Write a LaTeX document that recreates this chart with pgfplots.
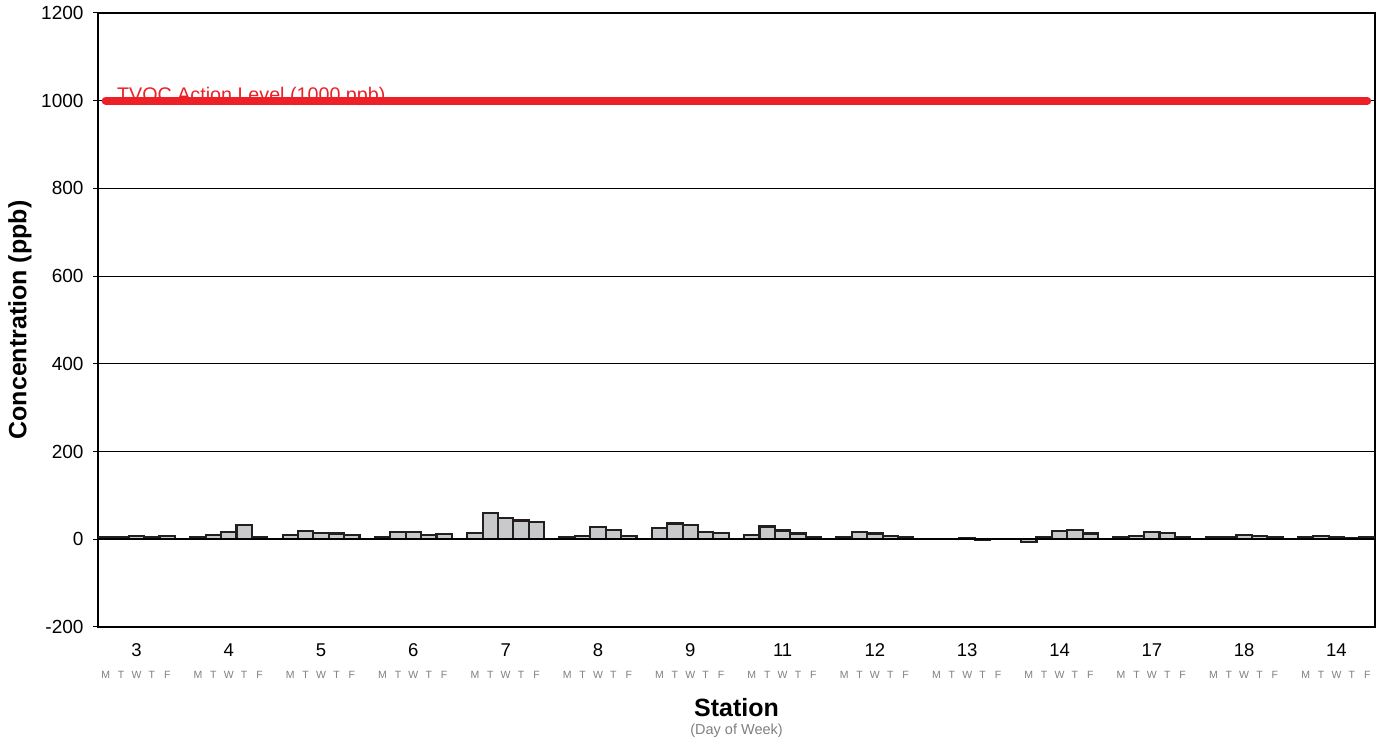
\documentclass[border=0pt]{standalone}
\usepackage{fontspec}
\setmainfont{Liberation Sans}
\usepackage{pgfplots}
\usepackage{pgfplotstable}
\pgfplotsset{compat=1.18}
\definecolor{barfill}{HTML}{C8C9CA}
\definecolor{bardraw}{HTML}{231F20}
\definecolor{tvocred}{HTML}{ED2027}
\definecolor{daygrey}{HTML}{808080}
\newcommand\dl[1]{\fontsize{10.5bp}{11bp}\selectfont\textcolor{daygrey}{#1}}
\pgfplotstableread{
x y
0 4
1 4
2 7
3 4
4 7
6 4
7 10
8 16
9 32
10 4
12 10
13 18
14 14
15 13
16 10
18 4
19 17
20 17
21 10
22 12
24 15
25 60
26 48
27 43
28 39
30 4
31 7
32 28
33 21
34 7
36 26
37 36
38 33
39 17
40 15
42 10
43 29
44 20
45 13
46 6
48 4
49 16
50 13
51 7
52 4
54 1
55 1
56 3
57 -2
58 1
60 -6
61 4
62 18
63 21
64 13
66 4
67 8
68 17
69 14
70 5
72 4
73 6
74 9
75 7
76 4
78 4
79 7
80 5
81 3
82 5
}\bardata
\begin{document}
\begin{tikzpicture}[x=1bp,y=1bp]
\useasboundingbox (0,0) rectangle (1389,744);
\begin{axis}[
  at={(98bp,117bp)}, anchor=south west,
  scale only axis, width=1277bp, height=614bp,
  xmin=-0.5, xmax=82.5, ymin=-200, ymax=1200,
  ytick={-200,0,...,1200},
  ymajorgrids, grid style={black, line width=1.1bp},
  axis line style={black, line width=1.4bp},
  tick align=outside, major tick length=5bp,
  ytick pos=left, xtick pos=left,
  ytick style={black, line width=1bp},
  xtick style={draw=none},
  /pgf/number format/assume math mode=true,
  /pgf/number format/1000 sep={},
  y tick label style={font=\fontsize{19bp}{21bp}\selectfont, xshift=-6bp},
  xtick={2,8,...,80},
  xticklabels={3,4,5,6,7,8,9,11,12,13,14,17,18,14},
  x tick label style={font=\fontsize{18.5bp}{21bp}\selectfont, yshift=-8bp},
  extra x ticks={0,1,2,3,4,6,7,8,9,10,12,13,14,15,16,18,19,20,21,22,24,25,26,27,28,30,31,32,33,34,36,37,38,39,40,42,43,44,45,46,48,49,50,51,52,54,55,56,57,58,60,61,62,63,64,66,67,68,69,70,72,73,74,75,76,78,79,80,81,82},
  extra x tick labels={\dl{M},\dl{T},\dl{W},\dl{T},\dl{F},\dl{M},\dl{T},\dl{W},\dl{T},\dl{F},\dl{M},\dl{T},\dl{W},\dl{T},\dl{F},\dl{M},\dl{T},\dl{W},\dl{T},\dl{F},\dl{M},\dl{T},\dl{W},\dl{T},\dl{F},\dl{M},\dl{T},\dl{W},\dl{T},\dl{F},\dl{M},\dl{T},\dl{W},\dl{T},\dl{F},\dl{M},\dl{T},\dl{W},\dl{T},\dl{F},\dl{M},\dl{T},\dl{W},\dl{T},\dl{F},\dl{M},\dl{T},\dl{W},\dl{T},\dl{F},\dl{M},\dl{T},\dl{W},\dl{T},\dl{F},\dl{M},\dl{T},\dl{W},\dl{T},\dl{F},\dl{M},\dl{T},\dl{W},\dl{T},\dl{F},\dl{M},\dl{T},\dl{W},\dl{T},\dl{F}},
  extra x tick style={grid=none, tick style={draw=none}, tick label style={yshift=-28bp}},
  xlabel={\textbf{Station}},
  xlabel style={font=\fontsize{25bp}{27bp}\selectfont, at={(axis description cs:0.5,0)}, anchor=center, yshift=-81bp},
  ylabel={\textbf{Concentration (ppb)}},
  ylabel style={font=\fontsize{25bp}{27bp}\selectfont, at={(axis description cs:-0.0611,0.5)}, anchor=center},
]
\addplot[ybar, bar width=1, bar shift=0, fill=barfill, draw=bardraw, line width=2.2bp] table[x=x,y=y] {\bardata};
\addplot[black, line width=1.8bp, forget plot] coordinates {(-0.5,0) (82.5,0)};
\addplot[tvocred, line width=8bp, line cap=round, forget plot] coordinates {(0,1000) (82,1000)};
\node[anchor=west, text=tvocred, font=\fontsize{19.7bp}{21bp}\selectfont, yshift=4bp, inner sep=0pt] at (axis cs:0.73,1000) {TVOC Action Level (1000 ppb)};
\end{axis}
\node[anchor=center, text=daygrey, font=\fontsize{14.5bp}{16bp}\selectfont] at (736.5,13) {(Day of Week)};
\end{tikzpicture}
\end{document}
